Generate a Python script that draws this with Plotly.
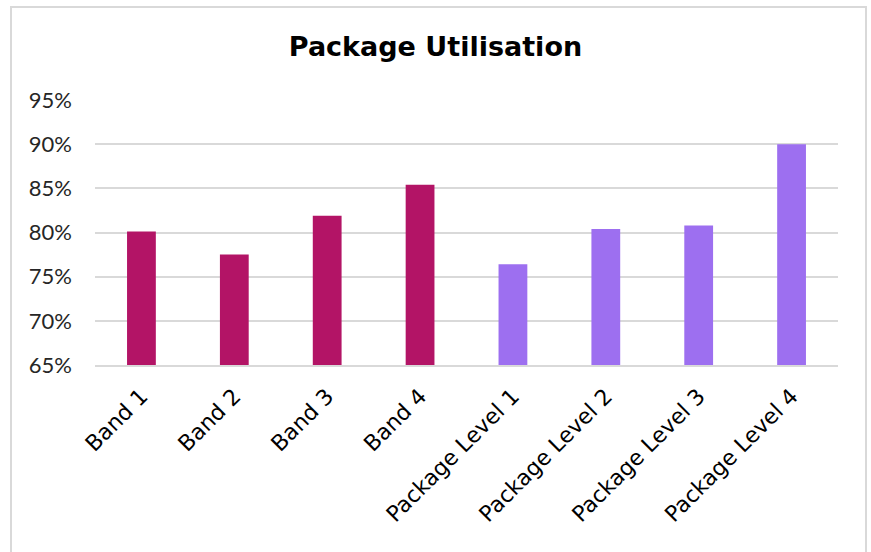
import plotly.graph_objects as go

categories = ["Band 1", "Band 2", "Band 3", "Band 4",
              "Package Level 1", "Package Level 2", "Package Level 3", "Package Level 4"]
values = [0.801, 0.775, 0.819, 0.854, 0.764, 0.804, 0.808, 0.900]
bar_colors = ["#b31466"] * 4 + ["#9d6ff0"] * 4
y_ticks = [0.65, 0.70, 0.75, 0.80, 0.85, 0.90, 0.95]

W, H = 871, 552
ml, mr, mt, mb = 95, 33, 100, 187
pw, ph = W - ml - mr, H - mt - mb

fig = go.Figure(go.Bar(x=categories, y=values, marker=dict(color=bar_colors, line=dict(width=0)),
                       width=0.31))

fig.update_layout(
    width=W, height=H,
    margin=dict(l=ml, r=mr, t=mt, b=mb),
    paper_bgcolor="white", plot_bgcolor="white",
    font=dict(family="'DejaVu Sans', sans-serif", color="#262626"),
    title=dict(text="<b>Package Utilisation</b>", x=0.5, xanchor="center",
               y=1 - 47 / H, yanchor="middle",
               font=dict(family="'DejaVu Sans', sans-serif", size=27, color="#000000")),
    showlegend=False,
)
fig.update_yaxes(range=[0.65, 0.95], tickvals=y_ticks, tickformat=".0%",
                 showgrid=True, gridcolor="#d9d9d9", gridwidth=1.5, zeroline=False,
                 showline=False, ticks="", ticklabelstandoff=22,
                 tickfont=dict(family="Lato, sans-serif", size=22, color="#262626"))
fig.update_xaxes(showgrid=False, showline=True, linecolor="#d9d9d9", linewidth=1.5,
                 ticks="", tickangle=-45, ticklabelstandoff=8,
                 tickfont=dict(family="'DejaVu Sans', sans-serif", size=22, color="#000000"))

fig.add_shape(type="rect", xref="paper", yref="paper",
              x0=(11 - ml) / pw, x1=(866 - ml) / pw,
              y0=(H - mb - 560) / ph, y1=(H - mb - 7) / ph,
              line=dict(color="#d9d9d9", width=2), fillcolor="rgba(0,0,0,0)", layer="below")

fig.write_html("out.html")
